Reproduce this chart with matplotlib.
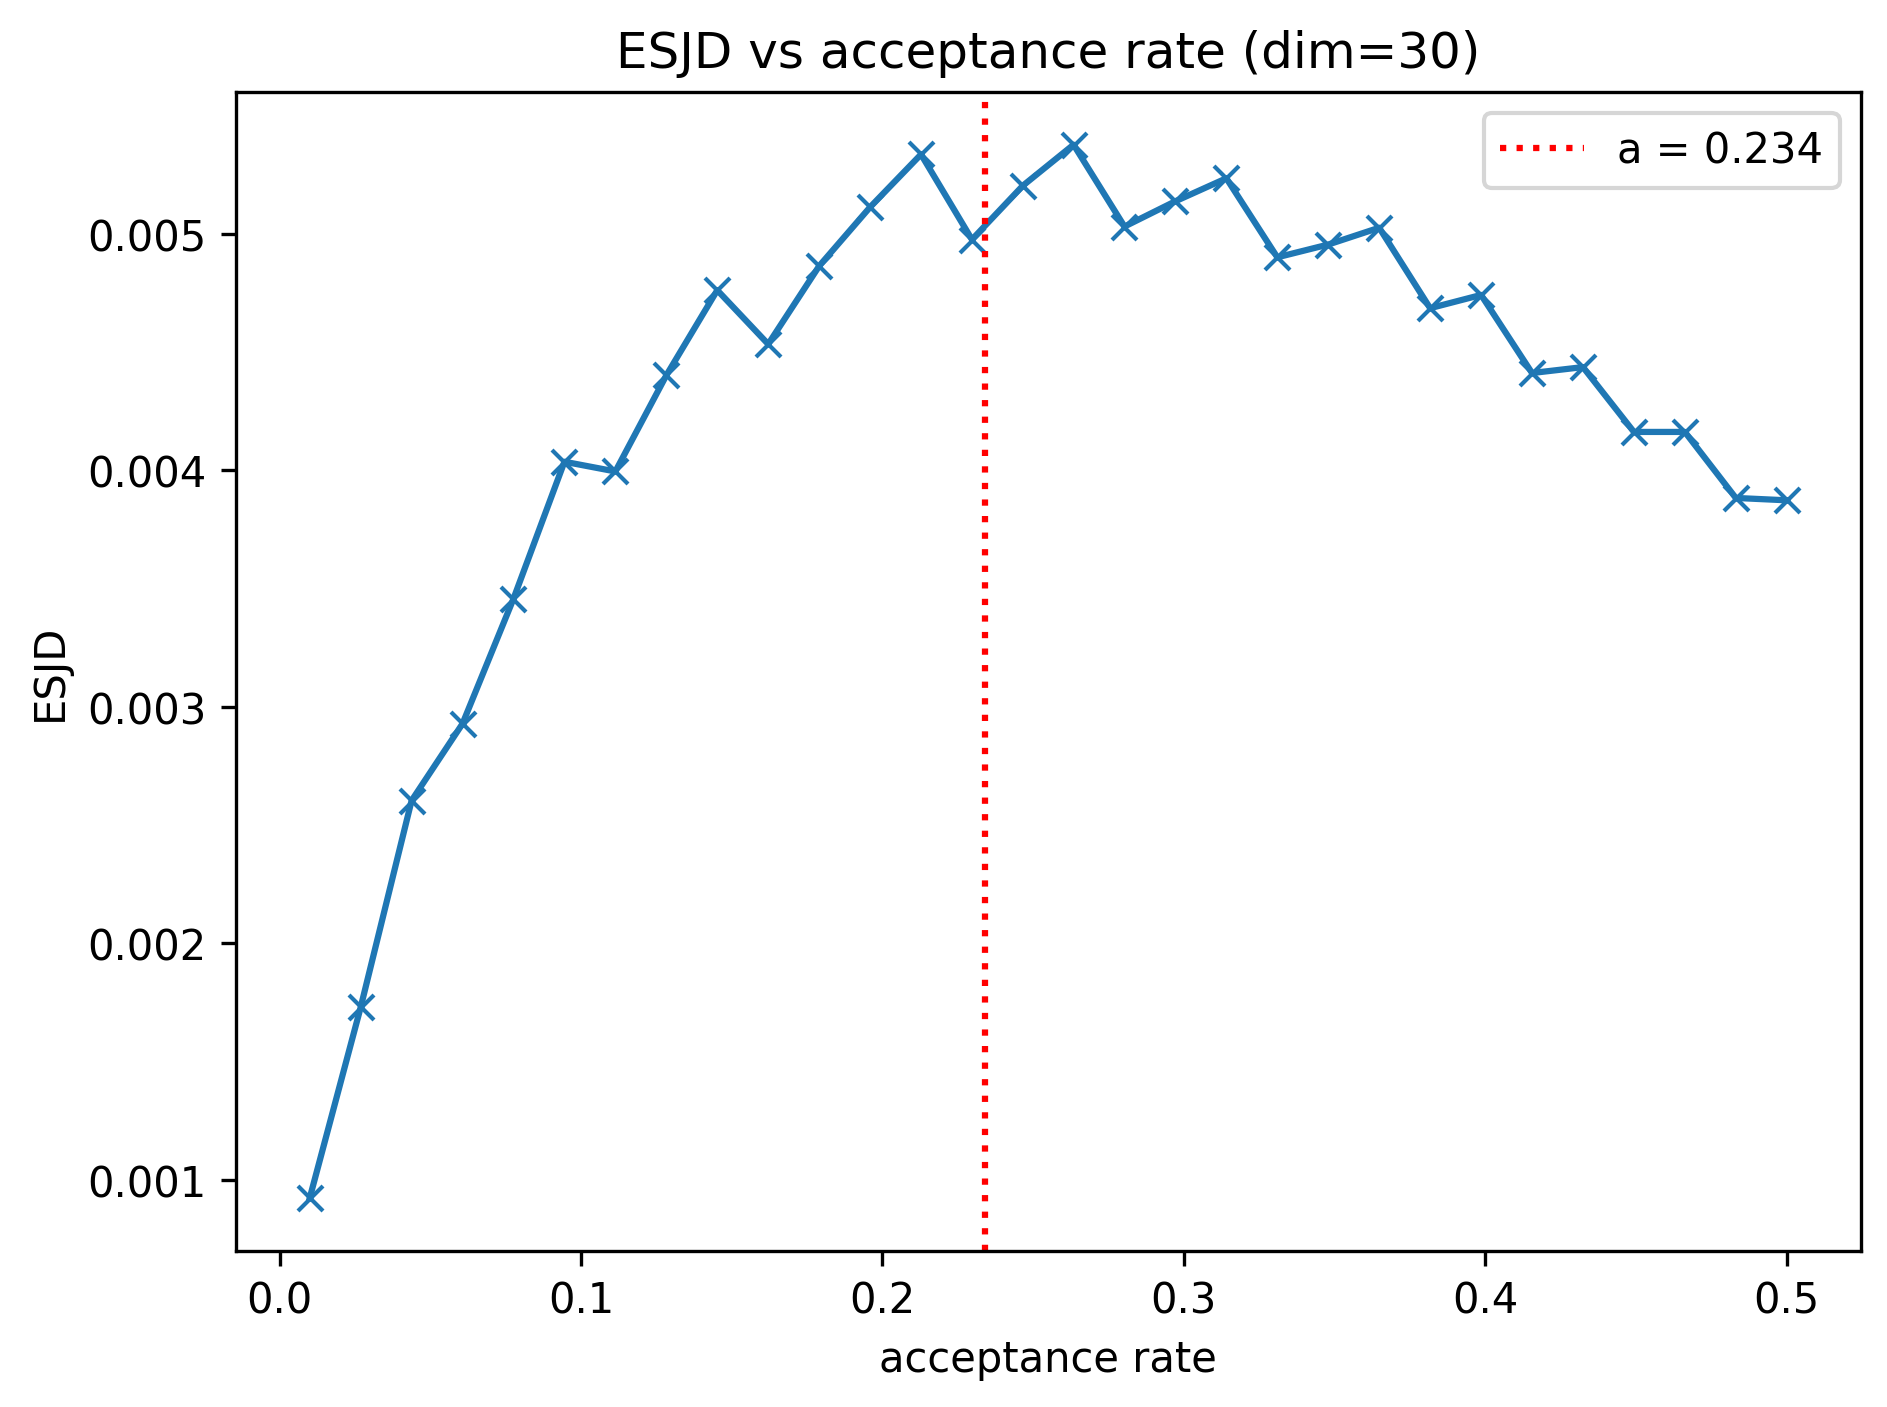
import matplotlib
matplotlib.use("Agg")
import matplotlib.pyplot as plt

# taxas de aceitação e ESJD
acc_rate = [0.0100, 0.0269, 0.0438, 0.0607, 0.0776, 0.0945, 0.1114, 0.1283,
            0.1452, 0.1621, 0.1790, 0.1959, 0.2128, 0.2297, 0.2466, 0.2634,
            0.2803, 0.2972, 0.3141, 0.3310, 0.3479, 0.3648, 0.3817, 0.3986,
            0.4155, 0.4324, 0.4493, 0.4662, 0.4831, 0.5000]
esjd = [0.000924, 0.00173, 0.002604, 0.002929, 0.003457, 0.004036, 0.003995,
        0.004401, 0.004761, 0.004533, 0.004863, 0.005112, 0.005335, 0.004975,
        0.005203, 0.005376, 0.00503, 0.005137, 0.005234, 0.0049, 0.004954,
        0.005025, 0.004685, 0.004741, 0.004411, 0.004436, 0.004162, 0.004162,
        0.003883, 0.003873]
optimal_a = 0.234

fig = plt.figure(figsize=(6.29, 4.693))
plt.plot(acc_rate, esjd, marker="x", color="#1f77b4")
plt.axvline(optimal_a, color="red", linestyle=":", label=f"a = {optimal_a}")
plt.title("ESJD vs acceptance rate (dim=30)")
plt.xlabel("acceptance rate")
plt.ylabel("ESJD")
plt.legend()
plt.subplots_adjust(left=0.125, right=0.986, top=0.934, bottom=0.111)
plt.savefig("out.png", dpi=300)
plt.close()
